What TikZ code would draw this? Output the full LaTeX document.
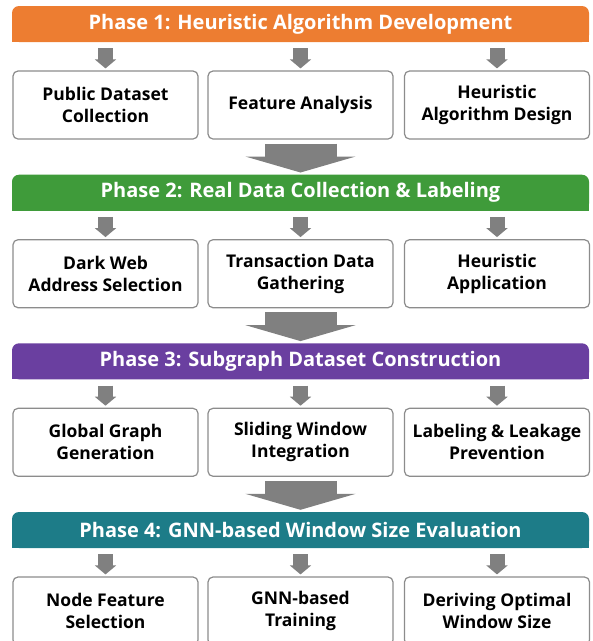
\documentclass[tikz,border=0pt]{standalone}
\usepackage{fontspec}
\setmainfont{Open Sans}
\usetikzlibrary{arrows.meta}

\definecolor{barorange}{HTML}{ED7D31}
\definecolor{bargreen}{HTML}{3F9B3A}
\definecolor{barpurple}{HTML}{6A3FA0}
\definecolor{barteal}{HTML}{1D7C88}
\definecolor{arrowgray}{HTML}{808080}
\definecolor{boxgray}{HTML}{8C8C8C}

\tikzset{
  phasebar/.style={text=white, minimum width=577pt, minimum height=36pt, inner sep=0pt,
    font=\bfseries\fontsize{20}{24}\selectfont},
  taskbox/.style={draw=boxgray, line width=1.2pt, rounded corners=5pt, fill=white,
    minimum width=185pt, minimum height=68pt, inner sep=0pt, align=center,
    font=\bfseries\fontsize{17.5}{22}\selectfont},
  smallarrow/.style={draw=arrowgray, line width=15pt,
    -{Triangle[width=21pt,length=9pt]}, shorten <=6pt, shorten >=2pt},
  bigarrow/.style={draw=arrowgray, line width=72pt,
    -{Triangle[width=110pt,length=16pt]}, shorten <=4pt, shorten >=2pt}
}

\begin{document}
\begin{tikzpicture}[x=1pt,y=-1pt]
\useasboundingbox (0,0) rectangle (593,641);
\clip (0,0) rectangle (593,641);

\foreach \t/\col in {6/barorange, 174.7/bargreen, 343.3/barpurple, 512/barteal} {
  \fill[\col, rounded corners=7pt] (12,\t) rectangle (589,\t+36);
  \fill[\col] (12,\t+18) rectangle (589,\t+36);
}

\node[phasebar] (p1) at (300.5,24) {Phase 1: Heuristic Algorithm Development};
\node[phasebar] (p2) at (300.5,192.7) {Phase 2: Real Data Collection \& Labeling};
\node[phasebar] (p3) at (300.5,361.3) {Phase 3: Subgraph Dataset Construction};
\node[phasebar] (p4) at (300.5,530) {Phase 4: GNN-based Window Size Evaluation};

\node[taskbox] (b11) at (105.5,105) {Public Dataset\\Collection};
\node[taskbox] (b12) at (300.5,105) {Feature Analysis};
\node[taskbox] (b13) at (497,105) {Heuristic\\Algorithm Design};

\node[taskbox] (b21) at (105.5,273.7) {Dark Web\\Address Selection};
\node[taskbox] (b22) at (300.5,273.7) {Transaction Data\\Gathering};
\node[taskbox] (b23) at (497,273.7) {Heuristic\\Application};

\node[taskbox] (b31) at (105.5,442.3) {Global Graph\\Generation};
\node[taskbox] (b32) at (300.5,442.3) {Sliding Window\\Integration};
\node[taskbox] (b33) at (497,442.3) {Labeling \& Leakage\\Prevention};

\node[taskbox] (b41) at (105.5,611) {Node Feature\\Selection};
\node[taskbox] (b42) at (300.5,611) {GNN-based\\Training};
\node[taskbox] (b43) at (497,611) {Deriving Optimal\\Window Size};

\foreach \i in {1,...,4}
  \foreach \j in {1,2,3}
    \draw[smallarrow] (p\i.south -| b\i\j.north) -- (b\i\j.north);

\foreach \i/\k in {1/2,2/3,3/4}
  \draw[bigarrow] (b\i2.south) -- (p\k.north);
\end{tikzpicture}
\end{document}
